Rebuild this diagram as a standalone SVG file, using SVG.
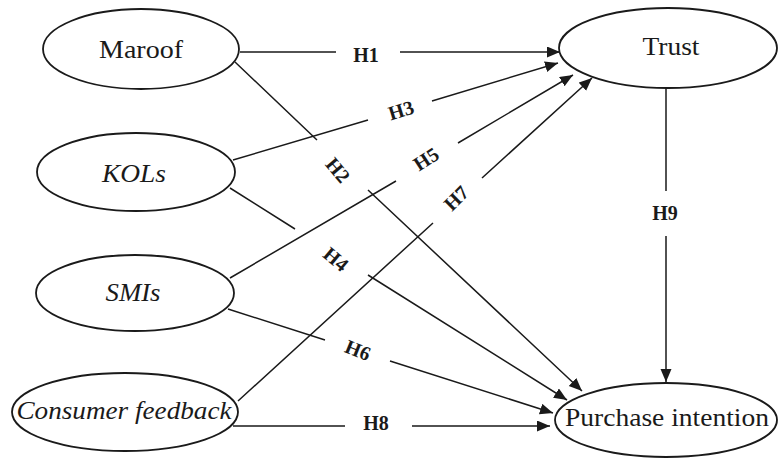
<svg xmlns="http://www.w3.org/2000/svg" width="778" height="458" viewBox="0 0 778 458">
  <style>
    .node ellipse { fill: #ffffff; stroke: #1a1a1a; stroke-width: 1.8; }
    .node text { font-family: "Liberation Serif", "Times New Roman", serif; font-size: 26px; fill: #1a1a1a; text-anchor: middle; }
    .node text.it { font-style: italic; }
    .edge { fill: none; stroke: #1a1a1a; stroke-width: 1.5; }
    .lbl { font-family: "Liberation Serif", "Times New Roman", serif; font-size: 20px; font-weight: bold; fill: #1a1a1a; text-anchor: middle; }
  </style>
  <defs>
    <marker id="arrow" markerUnits="userSpaceOnUse" markerWidth="14" markerHeight="12" refX="13" refY="5.5" orient="auto">
      <path d="M0,0 L13,5.5 L0,11 z" fill="#1a1a1a"/>
    </marker>
  </defs>
  <rect width="778" height="458" fill="#ffffff"/>

  <g id="connectors">
    <!-- H1: Maroof -> Trust -->
    <path class="edge" marker-end="url(#arrow)" d="M240,52 L336,52 M400,52 L560,52"/>
    <!-- H2: Maroof -> Purchase intention -->
    <path class="edge" marker-end="url(#arrow)" d="M235,62 L317,140 M368,190 L582,391"/>
    <!-- H3: KOLs -> Trust -->
    <path class="edge" marker-end="url(#arrow)" d="M233,160 L368,120 M432,101 L558,63"/>
    <!-- H4: KOLs -> Purchase intention -->
    <path class="edge" marker-end="url(#arrow)" d="M230,188 L295,229 M368,275 L567,400"/>
    <!-- H5: SMIs -> Trust -->
    <path class="edge" marker-end="url(#arrow)" d="M230,278 L396,181 M458,143 L573,75"/>
    <!-- H6: SMIs -> Purchase intention -->
    <path class="edge" marker-end="url(#arrow)" d="M228,309 L325,340 M390,361 L553,413"/>
    <!-- H7: Consumer feedback -> Trust -->
    <path class="edge" marker-end="url(#arrow)" d="M238,401 L433,223 M482,178 L592,78"/>
    <!-- H8: Consumer feedback -> Purchase intention -->
    <path class="edge" marker-end="url(#arrow)" d="M233,426 L345,426 M412,426 L550,426"/>
    <!-- H9: Trust -> Purchase intention -->
    <path class="edge" marker-end="url(#arrow)" d="M666,87 L666,191 M666,236 L666,382"/>

    <text class="lbl" x="366" y="62">H1</text>
    <text class="lbl" transform="translate(338,170) rotate(50)" y="7">H2</text>
    <text class="lbl" transform="translate(401,110) rotate(-17)" y="7">H3</text>
    <text class="lbl" transform="translate(336,259) rotate(40)" y="7">H4</text>
    <text class="lbl" transform="translate(426,159) rotate(-33)" y="7">H5</text>
    <text class="lbl" transform="translate(358,350) rotate(22)" y="7">H6</text>
    <text class="lbl" transform="translate(456,198) rotate(-45)" y="7">H7</text>
    <text class="lbl" x="376" y="430">H8</text>
    <text class="lbl" x="665" y="220">H9</text>
  </g>

  <g id="maroof" class="node">
    <ellipse cx="141" cy="49" rx="98" ry="40"/>
    <text x="141" y="58" textLength="84" lengthAdjust="spacingAndGlyphs">Maroof</text>
  </g>
  <g id="kols" class="node">
    <ellipse cx="136" cy="172" rx="99" ry="39"/>
    <text class="it" x="134" y="182" textLength="64" lengthAdjust="spacingAndGlyphs">KOLs</text>
  </g>
  <g id="smis" class="node">
    <ellipse cx="135" cy="293" rx="99" ry="38"/>
    <text class="it" x="133" y="301" textLength="55" lengthAdjust="spacingAndGlyphs">SMIs</text>
  </g>
  <g id="consumer-feedback" class="node">
    <ellipse cx="125" cy="412" rx="113" ry="39"/>
    <text class="it" x="124" y="419" textLength="215" lengthAdjust="spacingAndGlyphs">Consumer feedback</text>
  </g>
  <g id="trust" class="node">
    <ellipse cx="668" cy="48" rx="109" ry="40"/>
    <text x="671" y="55" textLength="57" lengthAdjust="spacingAndGlyphs">Trust</text>
  </g>
  <g id="purchase-intention" class="node">
    <ellipse cx="666" cy="420" rx="111" ry="37"/>
    <text x="667" y="426" textLength="204" lengthAdjust="spacingAndGlyphs">Purchase intention</text>
  </g>
</svg>
